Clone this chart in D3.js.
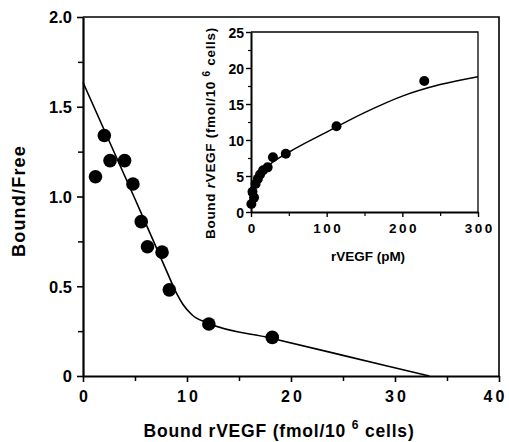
<!DOCTYPE html>
<html lang="en">
<head>
<meta charset="UTF-8">
<title>Scatchard plot of rVEGF binding</title>
<script src="https://d3js.org/d3.v7.min.js"></script>
<style>
  body { margin: 0; background: #fff; }
  svg { font-family: "Liberation Sans", Arial, sans-serif; font-weight: bold; }
  .axis path, .axis line { stroke: #000; }
  .axis text { fill: #000; font-weight: bold; }
</style>
</head>
<body>
<svg width="509" height="442"></svg>
<script>
// main Scatchard plot: bound (fmol/10^6 cells) vs bound/free
const boundX = [1.2, 2.05, 2.6, 4.0, 4.8, 5.6, 6.2, 7.6, 8.3, 12.1, 18.2];
const ratioY = [1.11, 1.34, 1.20, 1.20, 1.07, 0.86, 0.72, 0.69, 0.48, 0.29, 0.215];
const fitX = [0, 5, 8, 9, 9.6, 10.5, 12, 18, 25, 33.3];
const fitY = [1.636, 0.986, 0.59, 0.46, 0.40, 0.34, 0.295, 0.212, 0.115, 0];
const xTicks = [0, 10, 20, 30, 40];
const yTicks = [0, 0.5, 1.0, 1.5, 2.0];

// inset: saturation binding curve
const freeX = [0.5, 2, 4, 6, 9, 12, 16, 22, 29, 46, 113, 229];
const boundY = [1.1, 2.8, 2.0, 3.9, 4.6, 5.2, 5.8, 6.2, 7.6, 8.1, 11.9, 18.2];
const insetFitX = [0, 5, 10, 25, 50, 100, 150, 200, 250, 300];
const insetFitY = [3.0, 4.2, 5.0, 6.6, 8.3, 11.1, 13.8, 16.1, 17.7, 18.8];
const insetXTicks = [0, 100, 200, 300];
const insetYTicks = [0, 5, 10, 15, 20, 25];

const svg = d3.select("svg");

// ---------- main plot ----------
const x = d3.scaleLinear().domain([0, 40]).range([83, 499]);
const y = d3.scaleLinear().domain([0, 2]).range([376, 17]);

// frame (top + right)
svg.append("path")
   .attr("d", `M${x(0)},${y(2)}H${x(40)}V${y(0)}`)
   .attr("fill", "none").attr("stroke", "#000").attr("stroke-width", 1.6);

// minor ticks
svg.append("g").attr("class", "axis")
   .attr("transform", `translate(${x(0)},0)`)
   .call(d3.axisLeft(y).tickValues([0.25, 0.75, 1.25, 1.75]).tickSize(5).tickFormat(""))
   .call(g => g.select(".domain").remove())
   .selectAll("line").attr("stroke-width", 1.5);
svg.append("g").attr("class", "axis")
   .attr("transform", `translate(0,${y(0)})`)
   .call(d3.axisBottom(x).tickValues([5, 15, 25, 35]).tickSize(5).tickFormat(""))
   .call(g => g.select(".domain").remove())
   .selectAll("line").attr("stroke-width", 1.5);

const yAxis = svg.append("g").attr("class", "axis")
   .attr("transform", `translate(${x(0)},0)`)
   .call(d3.axisLeft(y).tickValues(yTicks).tickSize(6).tickSizeOuter(0)
        .tickFormat(d => d === 0 ? "0" : d3.format(".1f")(d)));
yAxis.select(".domain").attr("stroke-width", 2.2);
yAxis.selectAll("line").attr("stroke-width", 1.6);
yAxis.selectAll("text").attr("font-size", 16.5).attr("x", -11).attr("dy", "0.36em");

const xAxis = svg.append("g").attr("class", "axis")
   .attr("transform", `translate(0,${y(0)})`)
   .call(d3.axisBottom(x).tickValues(xTicks).tickSize(6).tickSizeOuter(0));
xAxis.select(".domain").attr("stroke-width", 2.2);
xAxis.selectAll("line").attr("stroke-width", 1.6);
xAxis.selectAll("text").attr("font-size", 16).attr("y", 15).attr("dy", "0.71em")
     .attr("letter-spacing", 3)
     .attr("dx", d => d === 40 ? -4 : 1.5);

// fitted line
svg.append("path")
   .datum(fitX.map((v, i) => [v, fitY[i]]))
   .attr("fill", "none").attr("stroke", "#000").attr("stroke-width", 1.6)
   .attr("d", d3.line().x(d => x(d[0])).y(d => y(d[1])).curve(d3.curveMonotoneX));

svg.append("g").selectAll("circle")
   .data(boundX.map((v, i) => [v, ratioY[i]]))
   .join("circle")
   .attr("cx", d => x(d[0])).attr("cy", d => y(d[1])).attr("r", 6.8).attr("fill", "#000");

// axis titles
const xt = svg.append("text").attr("x", 279).attr("y", 437)
   .attr("text-anchor", "middle").attr("font-size", 17.5).attr("letter-spacing", 0.8);
xt.append("tspan").text("Bound rVEGF (fmol/10 ");
xt.append("tspan").attr("font-size", 12).attr("dy", -8).text("6");
xt.append("tspan").attr("dy", 8).text(" cells)");

svg.append("text")
   .attr("transform", "translate(25,201) rotate(-90)")
   .attr("text-anchor", "middle").attr("font-size", 18).attr("letter-spacing", 1.2)
   .text("Bound/Free");

// ---------- inset ----------
const xi = d3.scaleLinear().domain([0, 300]).range([251, 478]);
const yi = d3.scaleLinear().domain([0, 25]).range([212, 32]);

svg.append("path")
   .attr("d", `M${xi(0)},${yi(25)}H${xi(300)}V${yi(0)}`)
   .attr("fill", "none").attr("stroke", "#000").attr("stroke-width", 1.3);

svg.append("g").attr("class", "axis")
   .attr("transform", `translate(${xi(0)},0)`)
   .call(d3.axisLeft(yi).tickValues([2.5, 7.5, 12.5, 17.5, 22.5]).tickSize(3).tickFormat(""))
   .call(g => g.select(".domain").remove())
   .selectAll("line").attr("stroke-width", 1.2);
svg.append("g").attr("class", "axis")
   .attr("transform", `translate(0,${yi(0)})`)
   .call(d3.axisBottom(xi).tickValues([50, 150, 250]).tickSize(4).tickFormat(""))
   .call(g => g.select(".domain").remove())
   .selectAll("line").attr("stroke-width", 1.2);

const yiAxis = svg.append("g").attr("class", "axis")
   .attr("transform", `translate(${xi(0)},0)`)
   .call(d3.axisLeft(yi).tickValues(insetYTicks).tickSize(5).tickSizeOuter(0));
yiAxis.select(".domain").attr("stroke-width", 2);
yiAxis.selectAll("line").attr("stroke-width", 1.4);
yiAxis.selectAll("text").attr("font-size", 14).attr("x", -7).attr("dy", "0.36em");

const xiAxis = svg.append("g").attr("class", "axis")
   .attr("transform", `translate(0,${yi(0)})`)
   .call(d3.axisBottom(xi).tickValues(insetXTicks).tickSize(5).tickSizeOuter(0));
xiAxis.select(".domain").attr("stroke-width", 2);
xiAxis.selectAll("line").attr("stroke-width", 1.4);
xiAxis.selectAll("text").attr("font-size", 13.5).attr("y", 11).attr("dy", "0.71em")
      .attr("letter-spacing", 2.5).attr("dx", 1.2);

svg.append("path")
   .datum(insetFitX.map((v, i) => [v, insetFitY[i]]))
   .attr("fill", "none").attr("stroke", "#000").attr("stroke-width", 1.5)
   .attr("d", d3.line().x(d => xi(d[0])).y(d => yi(d[1])).curve(d3.curveMonotoneX));

svg.append("g").selectAll("circle")
   .data(freeX.map((v, i) => [v, boundY[i]]))
   .join("circle")
   .attr("cx", d => xi(d[0])).attr("cy", d => yi(d[1])).attr("r", 5).attr("fill", "#000");

svg.append("text").attr("x", 368).attr("y", 261)
   .attr("text-anchor", "middle").attr("font-size", 13.5)
   .text("rVEGF (pM)");

const yit = svg.append("text")
   .attr("transform", "translate(215,133) rotate(-90)")
   .attr("text-anchor", "middle").attr("font-size", 13.5).attr("letter-spacing", 0.7);
yit.append("tspan").text("Bound ");
yit.append("tspan").attr("font-style", "italic").text("r");
yit.append("tspan").text("VEGF  (fmol/10 ");
yit.append("tspan").attr("font-size", 10).attr("dy", -5).text("6");
yit.append("tspan").attr("dy", 5).text(" cells)");
</script>
</body>
</html>
